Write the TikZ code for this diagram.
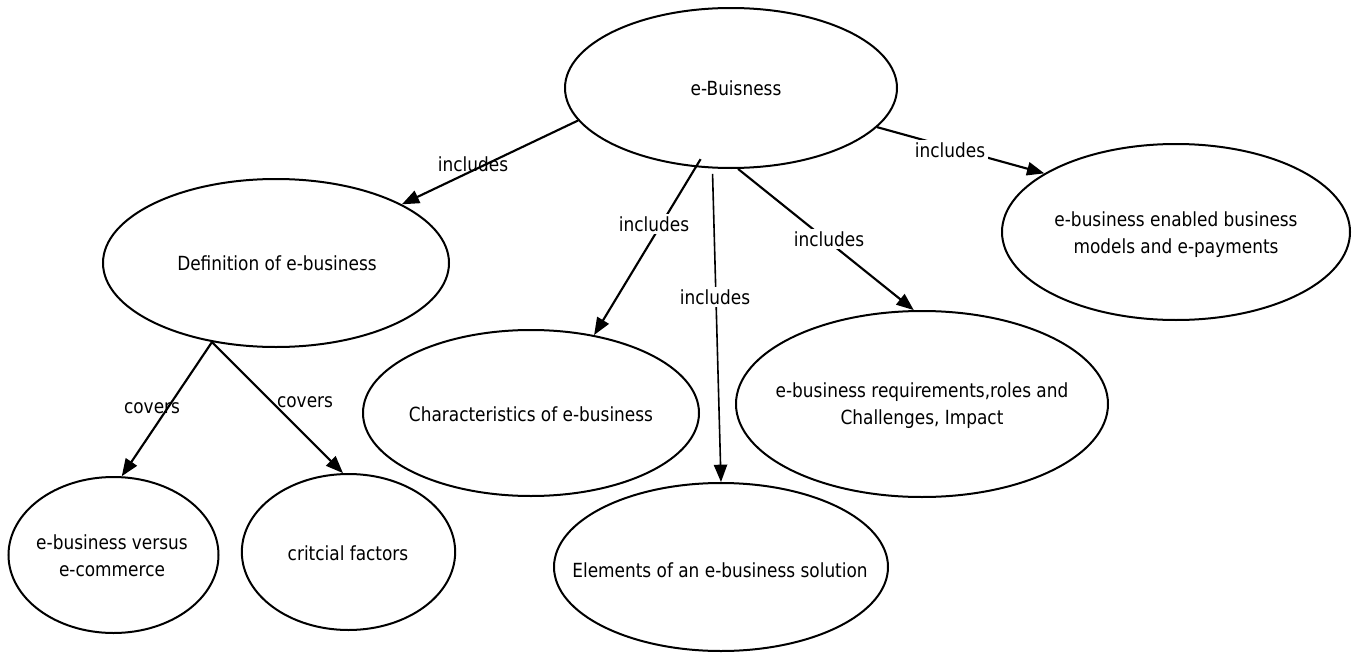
\documentclass[tikz,border=0pt]{standalone}
\usepackage{fontspec}
\setmainfont{DejaVu Sans}[FakeStretch=0.87]
\usetikzlibrary{arrows.meta,shapes.geometric}
\tikzset{every picture/.style={line width=0.75pt}}
\tikzset{
  bubble/.style={draw, ellipse, line width=1.5pt, inner sep=0pt},
  caption/.style={inner sep=0.75pt, align=center, font=\fontsize{14.6}{20.25}\selectfont},
  tag/.style={caption, fill=white, inner sep=2pt},
  link/.style={line width=1.6pt, -{Triangle[length=13pt,width=10pt]}},
}

\begin{document}
\begin{tikzpicture}[x=0.75pt,y=0.75pt,yscale=-1,xscale=1]
%set diagram left start at 0, and has height of 653
\path[use as bounding box] (0,0) rectangle (1354,653);

%Shape: Ellipse 
\node[bubble, minimum width=249pt, minimum height=120pt] (buis) at (731,88) {};
%Shape: Ellipse 
\node[bubble, minimum width=259.5pt, minimum height=126pt] (defn) at (276,263) {};
%Shape: Ellipse 
\node[bubble, minimum width=261pt, minimum height=132pt] (payt) at (1176,232) {};
%Shape: Ellipse 
\node[bubble, minimum width=252pt, minimum height=124.5pt] (chars) at (531,413) {};
%Shape: Ellipse 
\node[bubble, minimum width=279pt, minimum height=139.5pt] (reqs) at (922,404) {};
%Shape: Ellipse 
\node[bubble, minimum width=250.5pt, minimum height=126pt] (elem) at (721,567) {};
%Shape: Ellipse 
\node[bubble, minimum width=157.5pt, minimum height=117pt] (versus) at (113.5,555) {};
%Shape: Ellipse 
\node[bubble, minimum width=160pt, minimum height=117pt] (crit) at (348.5,552) {};

%Straight Lines 
\draw[link] (buis.192) -- (defn.25);
\draw[link, shorten <=-7pt] (buis.246) -- (chars.51);
\draw[link, line width=1.2pt, shorten <=4pt] (buis.257) -- (elem.90);
\draw[link] (buis.275) -- (reqs.95);
\draw[link] (buis.345) -- (payt.156);
%Straight Lines 
\draw[link] (defn.231) -- (versus.84);
\draw[link] (defn.231) -- (crit.94);

% Text Node
\node[caption] (buis-t) at (736,88) {e-Buisness};
% Text Node
\node[caption] (defn-t) at (277,263) {Definition of e-business};
% Text Node
\node[caption] (payt-t) at (1176,235) {e-business enabled business\\models and e-payments};
% Text Node
\node[caption] (chars-t) at (531,414) {Characteristics of e-business};
% Text Node
\node[caption] (reqs-t) at (922,406) {e-business requirements,roles and\\Challenges, Impact};
% Text Node
\node[caption] (elem-t) at (720,570) {Elements of an e-business solution};
% Text Node
\node[caption] (versus-t) at (112,556) {e-business versus\\e-commerce};
% Text Node
\node[caption] (crit-t) at (348,553) {critcial factors};

% Text Node
\node[caption] (inc1) at (473,164) {includes};
% Text Node
\node[tag] (inc2) at (654,224) {includes};
% Text Node
\node[tag] (inc3) at (715,297) {includes};
% Text Node
\node[tag] (inc4) at (829,239) {includes};
% Text Node
\node[tag] (inc5) at (950,150) {includes};
% Text Node
\node[caption] (cov1) at (152,408) {covers};
% Text Node
\node[caption] (cov2) at (305,402) {covers};

\end{tikzpicture}
\end{document}
